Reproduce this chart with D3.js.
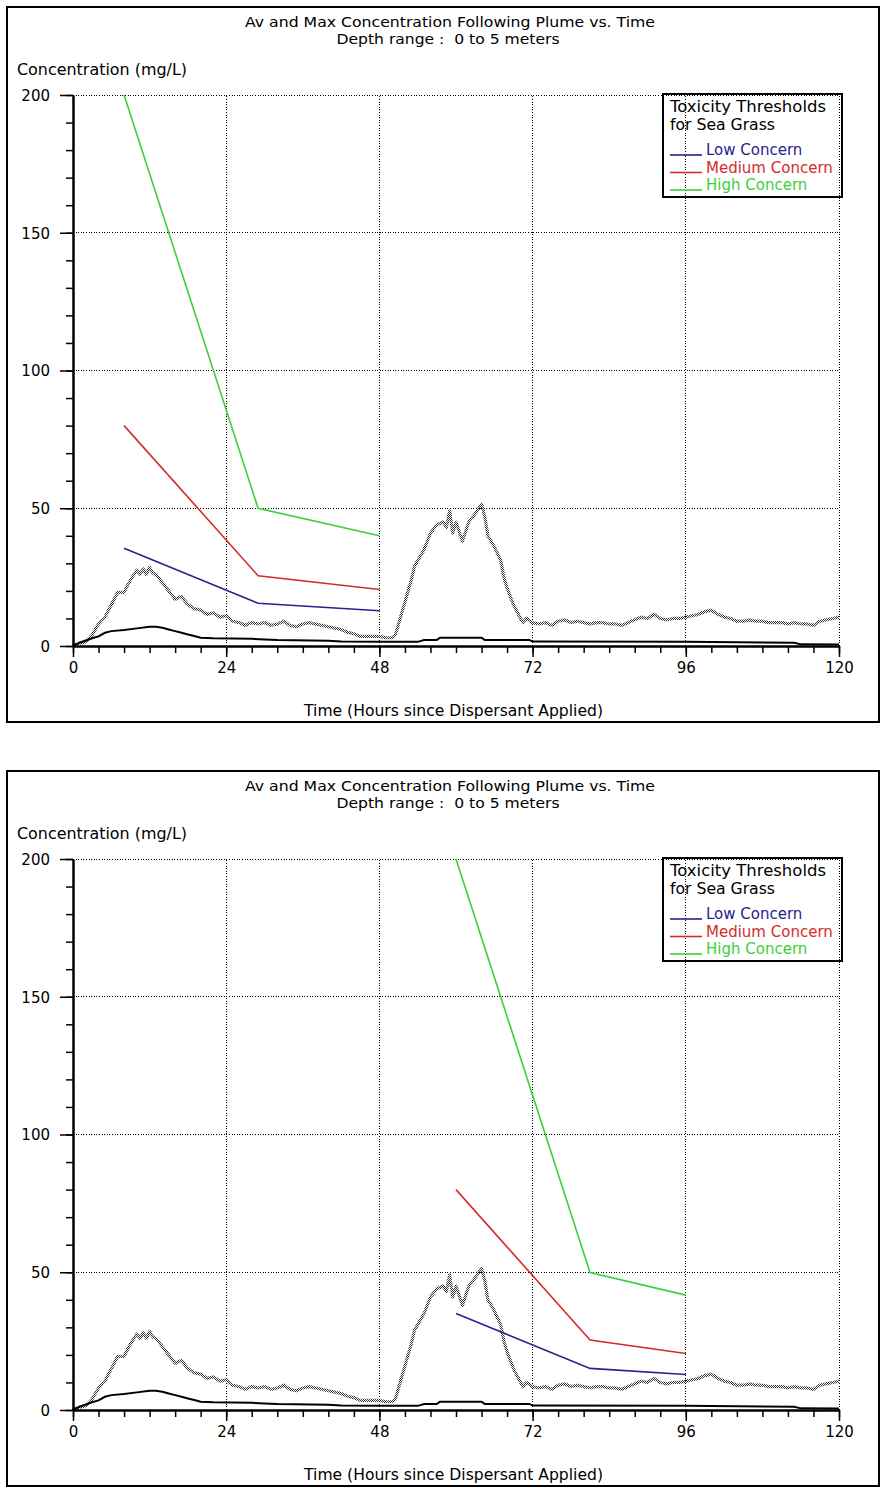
<!DOCTYPE html>
<html>
<head>
<meta charset="utf-8">
<script src="https://cdn.jsdelivr.net/npm/d3@7"></script>
<style>
body{margin:0;background:#fff;}
svg text{font-family:"DejaVu Sans",Verdana,sans-serif;fill:#000;}
</style>
</head>
<body>
<svg id="chart" width="883" height="1488"></svg>
<script>
// max concentration following plume (mg/L)
const maxHours=[0,1,2,3,4,5,6,7,8,9,10,10.5,11,11.5,12,12.5,13,14,15,16,17,18,19,20,21,22,23,24,25,26,27,28,29,30,31,32,33,34,35,36,37,38,39,40,41,42,43,44,45,46,47,48,49,50,50.5,51,52,53,53.5,54,55,56,57,58,58.5,59,59.5,60,61,62,63,64,64.5,65,66,67,67.5,68,69,70,70.5,71,72,73,74,75,76,77,78,79,80,81,82,83,84,85,86,87,88,89,90,91,92,93,94,95,96,97,98,99,100,101,102,103,104,105,106,107,108,109,110,111,112,113,114,115,116,117,118,119,120];
const maxConc=[0,1,1.5,4,8,10.5,15,19.5,19.5,24,27.5,26,28,26,28.5,26.5,26,23,20,17,18,15,13.5,13,11.5,12,10.5,11,9,8.5,7.5,8.5,8,8.5,7.5,8,9,7.5,7,8,8.5,8,7.5,7,6.5,6,5,4.5,3.5,3.5,3.5,3.5,3,3,4,8,16,24,29,31,35,41,44,45,43,49,41,45,38,45,48,51.5,47,40,36,31,25,21,15,10.5,8.5,10,8.5,8,8.5,7.5,9,9.5,8.5,9,8.5,8,8.5,8.5,8,8,7.5,8.5,9.5,10.5,10,11.5,10,9.5,10,10,10.5,11,11.5,12.5,13,11.5,10.5,10,9,9,9.5,9,9,8.5,8.5,8.5,8,8.5,8,8,7.5,9,9.5,10,10.5];
// average concentration
const avgHours=[0,1,2,3,4,5,6,8,10,12,13,14,15,16,17,18,19,20,22,28,30,32,40,42,48,54,55,57,57.5,64,64.5,71.5,72,96,113,114,120];
const avgConc=[0,1.2,2,2.8,3.5,4.8,5.4,5.8,6.4,7,7,6.6,6,5.4,4.8,4.2,3.6,3,2.8,2.6,2.4,2.2,1.9,1.6,1.5,1.5,2.2,2.2,3,3,2.2,2.2,1.6,1.5,1.2,0.6,0.5];
// toxicity thresholds, upper panel
const thrHoursTop=[8,29,48];
const lowTop=[35.5,15.5,12.8];
const medTop=[80,25.5,20.5];
const highTop=[200,50,40];
// toxicity thresholds, lower panel
const thrHoursBottom=[60,81,96];
const lowBottom=[35,15.1,12.9];
const medBottom=[80,25.4,20.5];
const highBottom=[200,49.9,41.7];

const legendLabels=['Low Concern','Medium Concern','High Concern'];
const legendColors=['#24248f','#d42c2c','#3ccf3c'];
const xTicks=[0,24,48,72,96,120];
const yTicks=[0,50,100,150,200];

const svg=d3.select('#chart');
const defs=svg.append('defs');
const pat=defs.append('pattern').attr('id','chk').attr('width',2).attr('height',2).attr('patternUnits','userSpaceOnUse');
pat.append('rect').attr('width',1).attr('height',1).attr('fill','#333');
pat.append('rect').attr('x',1).attr('y',1).attr('width',1).attr('height',1).attr('fill','#333');

const x=d3.scaleLinear().domain([0,120]).range([73,839]);
const y=d3.scaleLinear().domain([0,200]).range([646,95]);
const line=d3.line().x(d=>x(d[0])).y(d=>y(d[1]));

function drawPanel(dy,thrHours,thrSets){
  const g=svg.append('g').attr('transform',`translate(0,${dy})`);

  g.append('rect').attr('x',7).attr('y',7).attr('width',872).attr('height',715)
    .attr('fill','none').attr('stroke','#000').attr('stroke-width',2);

  g.append('text').attr('x',450).attr('y',27).attr('text-anchor','middle').attr('font-size',14)
    .attr('textLength',410).attr('lengthAdjust','spacingAndGlyphs')
    .text('Av and Max Concentration Following Plume vs. Time');
  g.append('text').attr('x',448).attr('y',44).attr('text-anchor','middle').attr('font-size',14)
    .attr('textLength',223).attr('lengthAdjust','spacingAndGlyphs')
    .attr('xml:space','preserve')
    .text('Depth range :  0 to 5 meters');
  g.append('text').attr('x',17).attr('y',75).attr('font-size',15)
    .attr('textLength',170).attr('lengthAdjust','spacingAndGlyphs')
    .text('Concentration (mg/L)');
  g.append('text').attr('x',304).attr('y',716).attr('font-size',15)
    .attr('textLength',299).attr('lengthAdjust','spacingAndGlyphs')
    .text('Time (Hours since Dispersant Applied)');

  // dotted grid
  const grid=g.append('g').attr('stroke','#000').attr('stroke-width',1)
    .attr('stroke-dasharray','1,1.6').attr('shape-rendering','crispEdges');
  grid.selectAll('.vx').data(xTicks.slice(1)).join('line')
    .attr('x1',d=>x(d)).attr('x2',d=>x(d)).attr('y1',y(0)).attr('y2',y(200));
  grid.selectAll('.hy').data(yTicks.slice(1)).join('line')
    .attr('x1',x(0)).attr('x2',x(120)).attr('y1',d=>y(d)).attr('y2',d=>y(d));

  // thresholds
  thrSets.forEach((vals,i)=>{
    g.append('path').datum(thrHours.map((h,j)=>[h,vals[j]]))
      .attr('d',line).attr('fill','none').attr('stroke',legendColors[i]).attr('stroke-width',1.6);
  });

  // max concentration (dithered)
  g.append('path').datum(maxHours.map((h,i)=>[h,maxConc[i]]))
    .attr('d',line).attr('fill','none').attr('stroke','url(#chk)').attr('stroke-width',3.2)
    .attr('stroke-linejoin','round');
  // average concentration
  g.append('path').datum(avgHours.map((h,i)=>[h,avgConc[i]]))
    .attr('d',line).attr('fill','none').attr('stroke','#000').attr('stroke-width',2);

  // axes
  const xMinor=g.append('g').attr('transform',`translate(0,${y(0)})`)
    .call(d3.axisBottom(x).tickValues(d3.range(0,121,4)).tickSize(7).tickSizeOuter(0).tickFormat(''));
  const xMajor=g.append('g').attr('transform',`translate(0,${y(0)})`)
    .call(d3.axisBottom(x).tickValues(xTicks).tickSize(11).tickSizeOuter(0));
  const yMinor=g.append('g').attr('transform',`translate(${x(0)},0)`)
    .call(d3.axisLeft(y).tickValues(d3.range(0,201,10)).tickSize(7).tickSizeOuter(0).tickFormat(''));
  const yMajor=g.append('g').attr('transform',`translate(${x(0)},0)`)
    .call(d3.axisLeft(y).tickValues(yTicks).tickSize(13).tickSizeOuter(0).tickPadding(10));
  [xMinor,xMajor,yMinor,yMajor].forEach(a=>{
    a.attr('font-family',null).attr('font-size',15);
    a.selectAll('line').attr('stroke','#000').attr('stroke-width',1.5);
    a.select('.domain').attr('stroke','#000').attr('stroke-width',2);
  });
  xMajor.selectAll('text').attr('y',27).attr('dy',null);
  yMajor.selectAll('text').attr('dy','0.36em');

  // legend
  const lg=g.append('g');
  lg.append('rect').attr('x',663).attr('y',94).attr('width',179).attr('height',103)
    .attr('fill','none').attr('stroke','#000').attr('stroke-width',2);
  lg.append('text').attr('x',670).attr('y',112).attr('font-size',15)
    .attr('textLength',156).attr('lengthAdjust','spacingAndGlyphs').text('Toxicity Thresholds');
  lg.append('text').attr('x',670).attr('y',129.5).attr('font-size',15)
    .attr('textLength',105).attr('lengthAdjust','spacingAndGlyphs').text('for Sea Grass');
  const items=lg.selectAll('.item').data(legendLabels).join('g')
    .attr('transform',(d,i)=>`translate(0,${155+i*17.5})`);
  items.append('line').attr('x1',670).attr('x2',702).attr('y1',0).attr('y2',0)
    .attr('stroke',(d,i)=>legendColors[i]).attr('stroke-width',1.6);
  items.append('text').attr('x',706).attr('y',0).attr('font-size',15)
    .style('fill',(d,i)=>legendColors[i]).text(d=>d);
}

drawPanel(0,thrHoursTop,[lowTop,medTop,highTop]);
drawPanel(764,thrHoursBottom,[lowBottom,medBottom,highBottom]);
</script>
</body>
</html>
